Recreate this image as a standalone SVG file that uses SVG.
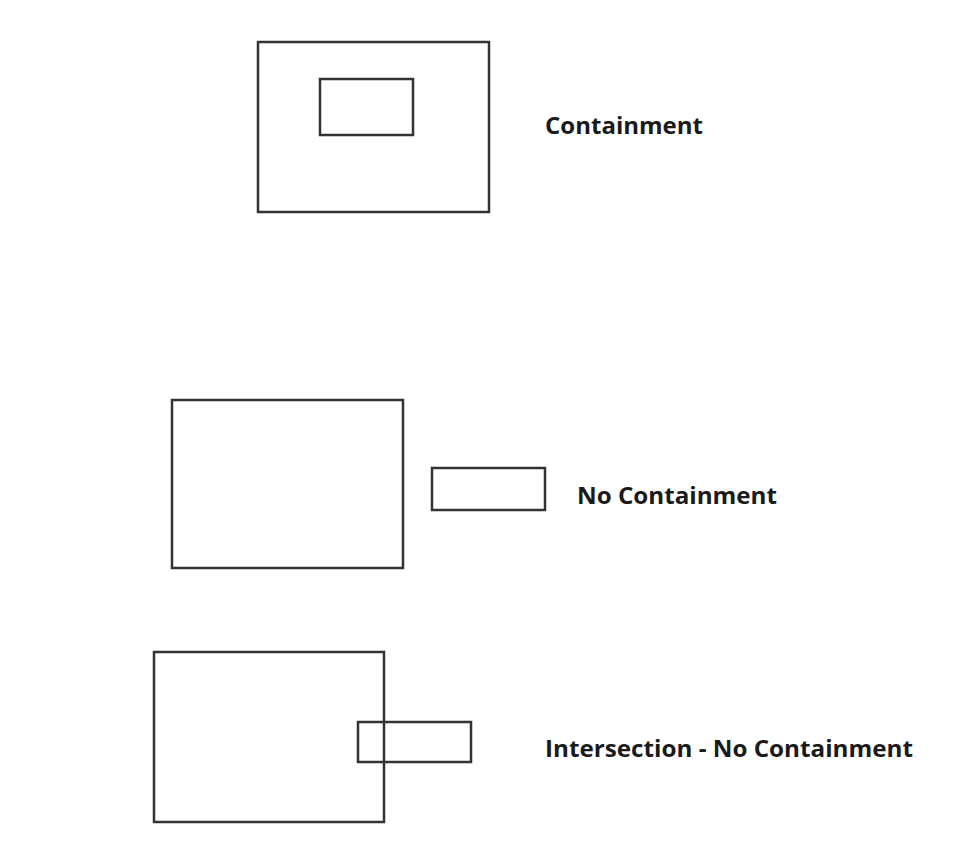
<svg xmlns="http://www.w3.org/2000/svg" width="960" height="852" viewBox="0 0 960 852">
<style>
.box{fill:none;stroke:#333;stroke-width:2.5}
.lbl{font-family:"Open Sans","Liberation Sans",sans-serif;font-weight:bold;font-size:23.5px;fill:#1a1a1a}
</style>
<rect width="960" height="852" fill="#fff"/>
<g id="containment">
<rect class="box" x="258" y="42" width="231" height="170"/>
<rect class="box" x="320" y="79" width="93" height="56"/>
<text class="lbl" x="545" y="134" textLength="158" lengthAdjust="spacingAndGlyphs">Containment</text>
</g>
<g id="no-containment">
<rect class="box" x="172" y="400" width="231" height="168"/>
<rect class="box" x="432" y="468" width="113" height="42"/>
<text class="lbl" x="577" y="504" textLength="200" lengthAdjust="spacingAndGlyphs">No Containment</text>
</g>
<g id="intersection">
<rect class="box" x="154" y="652" width="230" height="170"/>
<rect class="box" x="358" y="722" width="113" height="40"/>
<text class="lbl" x="545" y="757" textLength="368" lengthAdjust="spacingAndGlyphs">Intersection - No Containment</text>
</g>
<g id="connectors"/>
</svg>
